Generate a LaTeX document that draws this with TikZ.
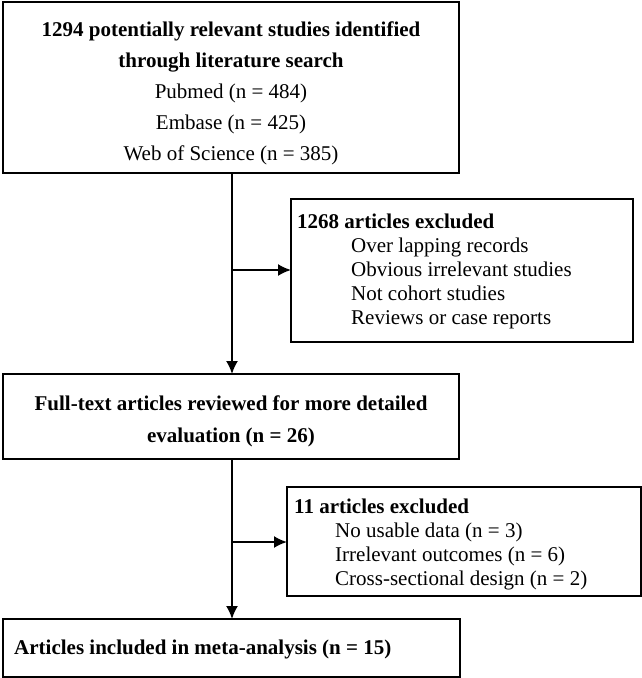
\documentclass[tikz,border=0pt]{standalone}
\usepackage{fontspec}
\setmainfont{Liberation Serif}
\usetikzlibrary{arrows.meta}
\begin{document}
\begin{tikzpicture}[x=1pt,y=-1pt,
  box/.style={draw=black, line width=1.1pt, anchor=north west, inner sep=0pt, outer sep=0pt},
  txt/.style={inner sep=0pt, font=\fontsize{21}{24}\selectfont},
  flow/.style={line width=1.8pt, -{Latex[length=13pt,width=12pt]}}]
\useasboundingbox (0,0) rectangle (642,678);
% boxes
\node[box, minimum width=456pt, minimum height=171pt] (b1) at (3,2) {};
\node[box, minimum width=342pt, minimum height=143pt] (b2) at (291,199) {};
\node[box, minimum width=456pt, minimum height=85pt] (b3) at (3,374) {};
\node[box, minimum width=354pt, minimum height=109pt] (b4) at (287,487) {};
\node[box, minimum width=457pt, minimum height=58pt] (b5) at (3,619) {};
% texts
\node[txt, align=center, font=\fontsize{21}{31}\selectfont] (t1) at ([yshift=-6pt]b1.center)
  {\textbf{1294 potentially relevant studies identified}\\
   \textbf{through literature search}\\
   Pubmed (n = 484)\\
   Embase (n = 425)\\
   Web of Science (n = 385)};
\node[txt, align=left, anchor=west] (t2) at ([xshift=6pt,yshift=-1pt]b2.west)
  {\textbf{1268 articles excluded}\\
   \hspace*{54pt}Over lapping records\\
   \hspace*{54pt}Obvious irrelevant studies\\
   \hspace*{54pt}Not cohort studies\\
   \hspace*{54pt}Reviews or case reports};
\node[txt, align=center, font=\fontsize{21}{32}\selectfont] (t3) at ([yshift=-5pt]b3.center)
  {\textbf{Full-text articles reviewed for more detailed}\\
   \textbf{evaluation (n = 26)}};
\node[txt, align=left, anchor=west] (t4) at ([xshift=7pt,yshift=-3pt]b4.west)
  {\textbf{11 articles excluded}\\
   \hspace*{41pt}No usable data (n = 3)\\
   \hspace*{41pt}Irrelevant outcomes (n = 6)\\
   \hspace*{41pt}Cross-sectional design (n = 2)};
\node[txt, align=left, anchor=west] (t5) at ([xshift=11pt,yshift=-1pt]b5.west)
  {\textbf{Articles included in meta-analysis (n = 15)}};
% connectors
\coordinate (j1) at (232,270);
\coordinate (j2) at (232,542);
\draw[flow] (b1.south -| j1) -- (b3.north -| j1);
\draw[flow] (j1) -- (j1 -| b2.west);
\draw[flow] (b3.south -| j2) -- (b5.north -| j2);
\draw[flow] (j2) -- (j2 -| b4.west);
\end{tikzpicture}
\end{document}
